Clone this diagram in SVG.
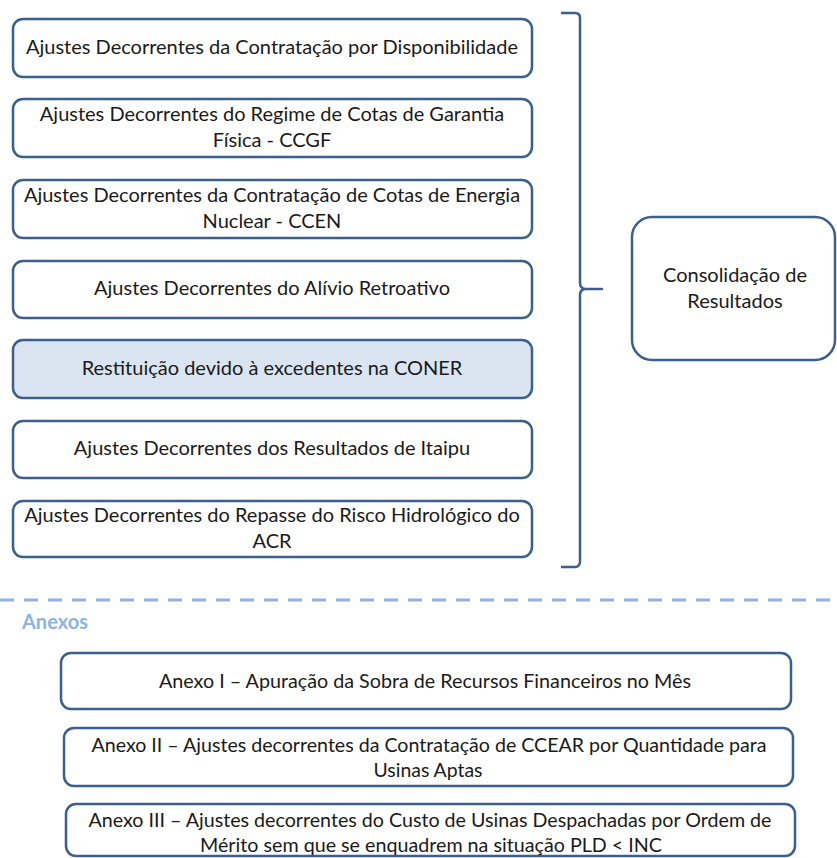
<svg xmlns="http://www.w3.org/2000/svg" width="837" height="858" viewBox="0 0 837 858">
<style>
.box{fill:#ffffff;stroke:#3b5f8e;stroke-width:2.5}
.hl{fill:#dbe5f1}
.t{font-family:Lato,"Open Sans","Liberation Sans",sans-serif;font-size:20px;fill:#1a1a1a;text-anchor:middle}
.a{font-family:Lato,"Liberation Sans",sans-serif;font-size:20px;fill:#1a1a1a;text-anchor:middle}
.brace{fill:none;stroke:#3b5f8e;stroke-width:2.5;stroke-linejoin:round}
.sep{stroke:#8db3e2;stroke-width:3;stroke-dasharray:14 10}
.hdr{font-family:Lato,"Liberation Sans",sans-serif;font-size:20px;font-weight:bold;fill:#8db3e2}
</style>
<rect width="837" height="858" fill="#ffffff"/>
<g id="n1"><rect class="box" x="13" y="19" width="519" height="58" rx="10"/><text class="t" x="272" y="54">Ajustes Decorrentes da Contratação por Disponibilidade</text></g>
<g id="n2"><rect class="box" x="13" y="99" width="519" height="58" rx="10"/><text class="t" x="272" y="121">Ajustes Decorrentes do Regime de Cotas de Garantia</text><text class="t" x="272" y="147">Física - CCGF</text></g>
<g id="n3"><rect class="box" x="13" y="180" width="519" height="58" rx="10"/><text class="t" x="272" y="202">Ajustes Decorrentes da Contratação de Cotas de Energia</text><text class="t" x="272" y="228">Nuclear - CCEN</text></g>
<g id="n4"><rect class="box" x="13" y="261" width="519" height="57" rx="10"/><text class="t" x="272" y="295">Ajustes Decorrentes do Alívio Retroativo</text></g>
<g id="n5"><rect class="box hl" x="13" y="340" width="519" height="58" rx="10"/><text class="t" x="272" y="375">Restituição devido à excedentes na CONER</text></g>
<g id="n6"><rect class="box" x="13" y="421" width="519" height="57" rx="10"/><text class="t" x="272" y="455">Ajustes Decorrentes dos Resultados de Itaipu</text></g>
<g id="n7"><rect class="box" x="13" y="501" width="519" height="56" rx="10"/><text class="t" x="272" y="522">Ajustes Decorrentes do Repasse do Risco Hidrológico do</text><text class="t" x="272" y="548">ACR</text></g>
<g id="connectors">
<path class="brace" d="M561 13 L575 13 Q580 13 580 18 L580 283 Q580 289 586 289 L602 289 L586 289 Q580 289 580 295 L580 561 Q580 567 575 567 L561 567"/>
<line class="sep" x1="0" y1="600" x2="837" y2="600"/>
</g>
<g id="consolidacao"><rect class="box" x="632" y="217" width="203" height="143" rx="20"/><text class="t" x="735" y="282">Consolidação de</text><text class="t" x="735" y="308">Resultados</text></g>
<text class="hdr" x="22" y="629">Anexos</text>
<g id="a1"><rect class="box" x="61" y="653" width="730" height="56" rx="10"/><text class="a" x="425" y="688" textLength="532" lengthAdjust="spacingAndGlyphs">Anexo I – Apuração da Sobra de Recursos Financeiros no Mês</text></g>
<g id="a2"><rect class="box" x="64" y="728" width="729" height="58" rx="10"/><text class="a" x="429" y="752" textLength="675" lengthAdjust="spacingAndGlyphs">Anexo II – Ajustes decorrentes da Contratação de CCEAR por Quantidade para</text><text class="a" x="428" y="777" textLength="109" lengthAdjust="spacingAndGlyphs">Usinas Aptas</text></g>
<g id="a3"><rect class="box" x="66" y="804" width="729" height="52" rx="10"/><text class="a" x="430" y="827" textLength="683" lengthAdjust="spacingAndGlyphs">Anexo III – Ajustes decorrentes do Custo de Usinas Despachadas por Ordem de</text><text class="a" x="431" y="852" textLength="462" lengthAdjust="spacingAndGlyphs">Mérito sem que se enquadrem na situação PLD &lt; INC</text></g>
</svg>
